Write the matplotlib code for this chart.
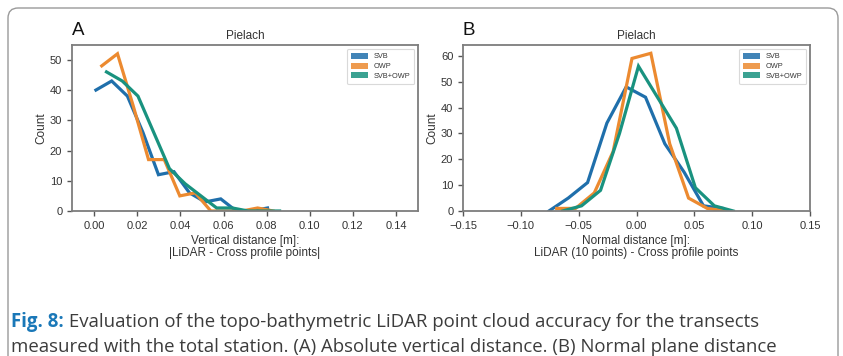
import matplotlib
matplotlib.use("Agg")
import matplotlib.pyplot as plt
from matplotlib.patches import FancyBboxPatch, Patch

# ---- data: histogram polygons (bin centres, counts) ----
series_names = ["SVB", "OWP", "SVB+OWP"]
series_colors = ["#1f6fab", "#ec8a30", "#19927f"]

# Panel A: absolute vertical distance [m]
a_svb_x = [0.0008, 0.0081, 0.0154, 0.0226, 0.0298, 0.0370, 0.0442, 0.0514, 0.0587, 0.0659, 0.0731, 0.0804]
a_svb_y = [40, 43, 38, 26, 12, 13, 6, 3, 4, 0, 0, 1]
a_owp_x = [0.0035, 0.0108, 0.0180, 0.0252, 0.0325, 0.0397, 0.0469, 0.0541, 0.0614, 0.0686, 0.0758, 0.0830]
a_owp_y = [48, 52, 35, 17, 17, 5, 6, 0, 0, 0, 1, 0]
a_both_x = [0.0057, 0.0130, 0.0203, 0.0276, 0.0349, 0.0422, 0.0495, 0.0568, 0.0641, 0.0714, 0.0787, 0.0860]
a_both_y = [46, 43, 38, 26, 14, 9, 5, 1, 1, 0, 0, 0]

# Panel B: normal plane distance [m]
b_svb_x = [-0.0757, -0.0590, -0.0423, -0.0256, -0.0089, 0.0078, 0.0245, 0.0412, 0.0579, 0.0746]
b_svb_y = [0, 5, 11, 34, 48, 44, 26, 15, 2, 1]
b_owp_x = [-0.0690, -0.0527, -0.0365, -0.0202, -0.0039, 0.0124, 0.0287, 0.0450, 0.0612, 0.0775]
b_owp_y = [1, 1, 7, 23, 59, 61, 26, 5, 1, 0]
b_both_x = [-0.0639, -0.0475, -0.0311, -0.0147, 0.0017, 0.0181, 0.0345, 0.0509, 0.0673, 0.0837]
b_both_y = [0, 2, 8, 30, 56, 44, 32, 9, 2, 0]

a_xticks = [0.00, 0.02, 0.04, 0.06, 0.08, 0.10, 0.12, 0.14]
a_yticks = [0, 10, 20, 30, 40, 50]
b_xticks = [-0.15, -0.10, -0.05, 0.00, 0.05, 0.10, 0.15]
b_yticks = [0, 10, 20, 30, 40, 50, 60]

panel_title = "Pielach"
a_xlabel = "Vertical distance [m]:\n|LiDAR - Cross profile points|"
b_xlabel = "Normal distance [m]:\nLiDAR (10 points) - Cross profile points"
caption_head = "Fig. 8:"
caption_line1 = " Evaluation of the topo-bathymetric LiDAR point cloud accuracy for the transects"
caption_line2 = "measured with the total station. (A) Absolute vertical distance. (B) Normal plane distance"

plt.rcParams["font.family"] = ["Liberation Sans", "DejaVu Sans"]
plt.rcParams["axes.unicode_minus"] = True

W, H = 843, 356
fig = plt.figure(figsize=(W / 100, H / 100), dpi=100)
fig.patch.set_facecolor("white")

# rounded frame around figure + caption
frame = FancyBboxPatch((8 / W, -20 / H), (838 - 8) / W, (H - 8 + 20) / H,
                       boxstyle="round,pad=0,rounding_size=0.012",
                       transform=fig.transFigure, facecolor="none",
                       edgecolor="#9a9a9a", linewidth=1.0, mutation_aspect=W / H)
fig.patches.append(frame)


def px_axes(left, right, top, bottom):
    return fig.add_axes([left / W, 1 - bottom / H, (right - left) / W, (bottom - top) / H])


def style(ax):
    for s in ax.spines.values():
        s.set_color("#7d7d7d")
        s.set_linewidth(1.3)
    ax.tick_params(axis="both", direction="out", length=3.5, width=1.0,
                   color="#555555", labelsize=8, labelcolor="#333333")


panels = [
    (px_axes(72, 418, 45, 211), "A",
     [(a_svb_x, a_svb_y), (a_owp_x, a_owp_y), (a_both_x, a_both_y)],
     (-0.0103, 0.1502), (0, 54.9), a_xticks, a_yticks, a_xlabel, "{:.2f}"),
    (px_axes(463, 810, 45, 211), "B",
     [(b_svb_x, b_svb_y), (b_owp_x, b_owp_y), (b_both_x, b_both_y)],
     (-0.15, 0.15), (0, 64.2), b_xticks, b_yticks, b_xlabel, "{:.2f}"),
]

for ax, letter, series, xlim, ylim, xt, yt, xlabel, fmt in panels:
    for (xs, ys), name, col in zip(series, series_names, series_colors):
        ax.plot(xs, ys, color=col, lw=2.3, solid_joinstyle="miter", label=name)
    ax.set_xlim(*xlim)
    ax.set_ylim(*ylim)
    ax.set_xticks(xt)
    ax.set_xticklabels([fmt.format(v).replace("-", "\u2212") for v in xt])
    ax.set_yticks(yt)
    style(ax)
    ax.set_title(panel_title, fontsize=8.5, color="#333333", pad=4)
    ax.set_ylabel("Count", fontsize=8.5, color="#333333", labelpad=2)
    ax.set_xlabel(xlabel, fontsize=8.5, color="#333333", labelpad=3, linespacing=1.05)
    ax.text(0.0, 1.035, letter, transform=ax.transAxes, fontsize=13.5,
            color="#111111", ha="left", va="bottom")
    handles = [Patch(facecolor=c, alpha=0.85, edgecolor="none") for c in series_colors]
    leg = ax.legend(handles, series_names, loc="upper right", fontsize=5.3,
                    handlelength=2.3, handleheight=0.9, labelspacing=0.3,
                    borderpad=0.55, handletextpad=0.7, frameon=True, fancybox=True)
    leg.get_frame().set_edgecolor("#d0d0d0")
    leg.get_frame().set_linewidth(0.8)
    for t in leg.get_texts():
        t.set_color("#333333")

# caption
cap_size = 13.4
y1 = 1 - 322 / H
y2 = 1 - 347 / H
cap_fam = ["Open Sans", "DejaVu Sans"]
head = fig.text(11 / W, y1, caption_head, fontsize=cap_size, fontweight="bold",
                color="#1a78b8", family=cap_fam, va="center")
fig.canvas.draw()
bb = head.get_window_extent()
fig.text(bb.x1 / W, y1, caption_line1, fontsize=cap_size, color="#3c3c3c",
         family=cap_fam, va="center")
fig.text(11 / W, y2, caption_line2, fontsize=cap_size, color="#3c3c3c",
         family=cap_fam, va="center")

fig.savefig("out.png", dpi=100, facecolor="white")
